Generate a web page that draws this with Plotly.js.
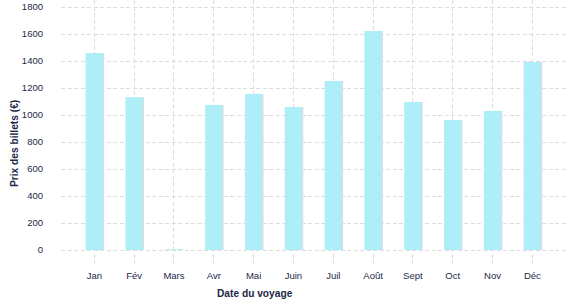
<!DOCTYPE html>
<html>
<head>
<meta charset="utf-8">
<script src="https://cdn.plot.ly/plotly-3.0.1.min.js"></script>
<style>html,body{margin:0;padding:0;background:#fff;}#chart{width:577px;height:300px;}</style>
</head>
<body>
<div id="chart"></div>
<script>
const months = ["Jan", "Fév", "Mars", "Avr", "Mai", "Juin", "Juil", "Août", "Sept", "Oct", "Nov", "Déc"];
const prices = [1459, 1131, 5, 1074, 1156, 1059, 1252, 1622, 1096, 963, 1030, 1393];
const yTicks = [0, 200, 400, 600, 800, 1000, 1200, 1400, 1600, 1800];

const textColor = "#1b2846";
const fontFam = "Liberation Sans, Arial, sans-serif";
const barW = 0.435;

const shadow = {
  type: "bar", x: months, y: prices,
  width: barW, offset: -barW / 2 + 0.03,
  marker: {color: "#dddddd"},
  hoverinfo: "skip", showlegend: false
};
const bars = {
  type: "bar", x: months, y: prices,
  width: barW, offset: -barW / 2,
  marker: {color: "#adeef8"},
  showlegend: false
};

const layout = {
  width: 577, height: 300,
  margin: {l: 61, r: 10, t: 0, b: 35, pad: 0},
  paper_bgcolor: "#ffffff", plot_bgcolor: "#ffffff",
  barmode: "overlay",
  font: {family: fontFam, size: 9.5, color: textColor},
  xaxis: {
    type: "category", categoryorder: "array", categoryarray: months,
    range: [-0.837, 11.87],
    showgrid: true, gridcolor: "#dddddd", gridwidth: 1, griddash: "4px,2.5px",
    showline: false, zeroline: false, ticks: "",
    tickfont: {family: fontFam, size: 9.5, color: textColor},
    ticklabelstandoff: 3
  },
  yaxis: {
    range: [-111, 1852],
    tickvals: yTicks, ticktext: yTicks.map(String),
    showgrid: true, gridcolor: "#dddddd", gridwidth: 1, griddash: "4px,2.5px",
    showline: false, zeroline: false, ticks: "",
    tickfont: {family: fontFam, size: 9.5, color: textColor},
    ticklabelstandoff: 17
  },
  annotations: [
    {text: "<b>Date du voyage</b>", xref: "paper", yref: "paper",
     x: (255 - 61) / 506, y: -(293 - 265) / 265, xanchor: "center", yanchor: "middle",
     showarrow: false, font: {family: fontFam, size: 10.2, color: textColor}},
    {text: "<b>Prix des billets (€)</b>", xref: "paper", yref: "paper",
     x: (14 - 61) / 506, y: (265 - 144) / 265, xanchor: "center", yanchor: "middle",
     textangle: -90, showarrow: false, font: {family: fontFam, size: 10.2, color: textColor}}
  ]
};

Plotly.newPlot("chart", [shadow, bars], layout, {displayModeBar: false, staticPlot: true});
</script>
</body>
</html>
